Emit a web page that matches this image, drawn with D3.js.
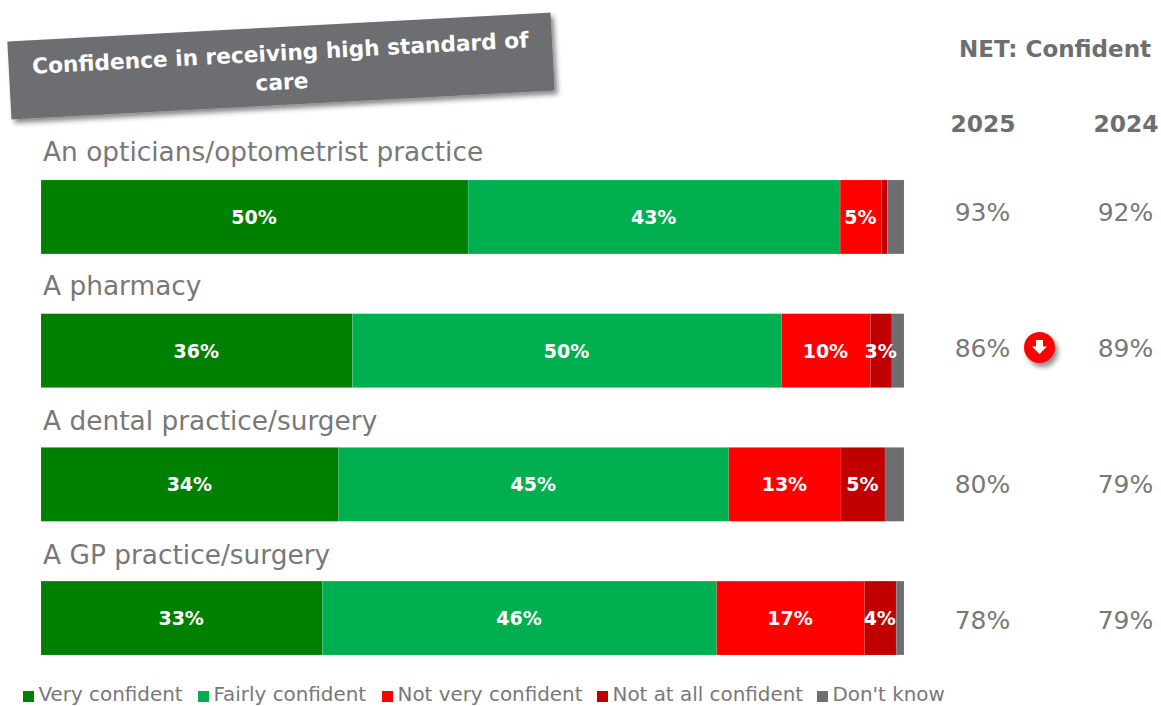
<!DOCTYPE html>
<html><head><meta charset="utf-8">
<script src="https://cdn.jsdelivr.net/npm/d3@7/dist/d3.min.js"></script>
<style>html,body{margin:0;padding:0;background:#fff}svg{display:block}text{font-family:"DejaVu Sans",Verdana,sans-serif}</style>
</head><body><svg id="c" width="1161" height="706"></svg>
<script>
const categories=["An opticians/optometrist practice","A pharmacy","A dental practice/surgery","A GP practice/surgery"];
const seriesNames=["Very confident","Fairly confident","Not very confident","Not at all confident","Don't know"];
const seriesColors=["#008000","#00B050","#FF0000","#C00000","#6D6E71"];
const veryConfident=[49.5,36.1,34.5,32.6];
const fairlyConfident=[43.1,49.7,45.2,45.7];
const notVeryConfident=[4.8,10.3,13.0,17.1];
const notAtAllConfident=[0.7,2.5,5.1,3.7];
const dontKnow=[1.9,1.4,2.2,0.9];
const barLabels=[["50%","43%","5%",null,null],["36%","50%","10%","3%",null],["34%","45%","13%","5%",null],["33%","46%","17%","4%",null]];
const net2025=["93%","86%","80%","78%"];
const net2024=["92%","89%","79%","79%"];
const title=["Confidence in receiving high standard of","care"];
const allSeries=[veryConfident,fairlyConfident,notVeryConfident,notAtAllConfident,dontKnow];

const svg=d3.select("#c");
const defs=svg.append("defs");
const f=defs.append("filter").attr("id","sh").attr("x","-20%").attr("y","-20%").attr("width","140%").attr("height","150%");
f.append("feDropShadow").attr("dx",3).attr("dy",4).attr("stdDeviation",2.5).attr("flood-color","#000").attr("flood-opacity",0.45);

const x=d3.scaleLinear().domain([0,100]).range([41,904]);
const y=d3.scaleBand().domain(categories).range([180,655]).paddingInner(60/134.2).paddingOuter(0);
const netY=d3.scalePoint().domain(categories).range([212,620]);
const labelY=d3.scalePoint().domain(categories).range([160.5,564]);
const grey="#787878";

// title banner
const tg=svg.append("g").attr("transform","translate(281,66) rotate(-3.05)");
tg.append("rect").attr("x",-272).attr("y",-39).attr("width",544).attr("height",78).attr("fill","#6D6E71").attr("filter","url(#sh)");
tg.selectAll("text").data(title).join("text").attr("x",0).attr("y",(d,i)=>-5.5+i*29)
  .attr("text-anchor","middle").attr("fill","#fff").attr("font-weight","bold").attr("font-size",21.7).text(d=>d);

// category labels
svg.selectAll("text.cat").data(categories).join("text").attr("class","cat")
  .attr("x",43).attr("y",d=>labelY(d)).attr("fill",grey).attr("font-size",26.4).text(d=>d);

// stacked bars
const rows=categories.map((c,i)=>{let acc=0;return allSeries.map((s,j)=>{const o={c,j,x0:acc,x1:acc+s[i],label:barLabels[i][j]};acc+=s[i];return o;});});
const rg=svg.selectAll("g.row").data(rows).join("g").attr("class","row");
rg.selectAll("rect").data(d=>d).join("rect")
  .attr("x",d=>x(d.x0)).attr("width",d=>x(d.x1)-x(d.x0)).attr("y",d=>y(d.c)).attr("height",y.bandwidth()).attr("fill",d=>seriesColors[d.j])
  .attr("stroke","#d9d9d9").attr("stroke-opacity",0.18).attr("stroke-width",0.75);
rg.selectAll("text").data(d=>d.filter(e=>e.label)).join("text")
  .attr("x",d=>(x(d.x0)+x(d.x1))/2-0.5).attr("y",d=>y(d.c)+y.bandwidth()/2+7).attr("text-anchor","middle")
  .attr("fill","#fff").attr("font-weight","bold").attr("font-size",19).text(d=>d.label);

// NET columns
svg.append("text").attr("x",1055).attr("y",57).attr("text-anchor","middle").attr("fill","#6D6E71").attr("font-weight","bold").attr("font-size",23).text("NET: Confident");
[["2025",983,net2025],["2024",1126,net2024]].forEach(([yr,cx,vals])=>{
  svg.append("text").attr("x",cx).attr("y",132).attr("text-anchor","middle").attr("fill","#6D6E71").attr("font-weight","bold").attr("font-size",23.4).text(yr);
  svg.selectAll("text.v"+yr).data(vals).join("text").attr("class","v"+yr)
    .attr("x",cx-0.5).attr("y",(d,i)=>netY(categories[i])+9).attr("text-anchor","middle").attr("fill",grey).attr("font-size",25).text(d=>d);
});

// down arrow marker
const ag=svg.append("g").attr("transform","translate(1039.5,347.5)");
ag.append("circle").attr("r",15.5).attr("fill","#FF0000").attr("filter","url(#sh)");
ag.append("path").attr("d","M-3.5,-7.5H3.5V-1H7.5L0,6.5L-7.5,-1H-3.5Z").attr("fill","#fff");

// legend
const legX=[23,198,382,597,817];
const lg=svg.selectAll("g.leg").data(seriesNames).join("g").attr("class","leg").attr("transform",(d,i)=>`translate(${legX[i]},691)`);
lg.append("rect").attr("width",11).attr("height",11).attr("fill",(d,i)=>seriesColors[i]);
lg.append("text").attr("x",15.5).attr("y",10.2).attr("fill",grey).attr("font-size",19.9).text(d=>d);
</script></body></html>
